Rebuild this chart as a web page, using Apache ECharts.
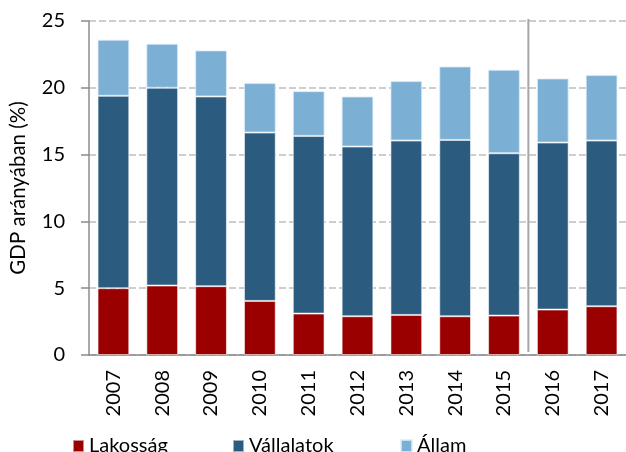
<!DOCTYPE html>
<html>
<head>
<meta charset="utf-8">
<script src="https://cdn.jsdelivr.net/npm/echarts@6/dist/echarts.min.js"></script>
<style>
  html, body { margin: 0; padding: 0; background: #fff; }
  #main { width: 626px; height: 452px; }
</style>
</head>
<body>
<div id="main"></div>
<script>
// adatok (GDP %)
var years = ['2007', '2008', '2009', '2010', '2011', '2012', '2013', '2014', '2015', '2016', '2017'];
var lakossag = [5.0, 5.2, 5.15, 4.05, 3.1, 2.9, 3.0, 2.9, 2.95, 3.4, 3.65];
var vallalatok = [14.4, 14.8, 14.2, 12.6, 13.3, 12.7, 13.05, 13.2, 12.15, 12.5, 12.4];
var allam = [4.2, 3.3, 3.45, 3.7, 3.35, 3.75, 4.45, 5.5, 6.25, 4.8, 4.9];
var splitAfter = '2015';

var font = 'Lato';
var chart = echarts.init(document.getElementById('main'));

function legendAt(name, left) {
  return {
    data: [name],
    left: left,
    top: 436,
    icon: 'rect',
    itemWidth: 11,
    itemHeight: 12,
    itemGap: 0,
    padding: 0,
    textStyle: { fontFamily: font, fontSize: 20, color: '#000' }
  };
}

var barBorder = 'rgba(255,255,255,0.55)';

var option = {
  animation: false,
  color: ['#9b0000', '#2b5b7e', '#7bafd4'],
  grid: {
    left: 88,
    right: 0,
    top: 21,
    bottom: 97
  },
  legend: [
    legendAt('Lakosság', 72),
    legendAt('Vállalatok', 232),
    legendAt('Állam', 400)
  ],
  xAxis: {
    type: 'category',
    data: years,
    axisLine: { lineStyle: { color: '#8c8c8c', width: 1.5 } },
    axisTick: { show: false },
    axisLabel: {
      rotate: 90,
      margin: 15,
      fontFamily: font,
      fontSize: 20,
      color: '#000'
    }
  },
  yAxis: {
    type: 'value',
    min: 0,
    max: 25,
    interval: 5,
    name: 'GDP arányában (%)',
    nameLocation: 'middle',
    nameGap: 60,
    nameTextStyle: { fontFamily: font, fontSize: 20.5, color: '#000' },
    axisLine: { show: true, lineStyle: { color: '#8c8c8c', width: 1.5 } },
    axisTick: { show: true, length: 8, lineStyle: { color: '#8c8c8c', width: 1.5 } },
    axisLabel: { margin: 24, fontFamily: font, fontSize: 20, color: '#000' },
    splitLine: { lineStyle: { color: '#bfbfbf', width: 1.5, type: [7, 3] } }
  },
  series: [{
    name: 'Lakosság',
    type: 'bar',
    stack: 'gdp',
    barWidth: '65%',
    itemStyle: { borderColor: barBorder, borderWidth: 1 },
    data: lakossag
  }, {
    name: 'Vállalatok',
    type: 'bar',
    stack: 'gdp',
    itemStyle: { borderColor: barBorder, borderWidth: 1 },
    data: vallalatok
  }, {
    name: 'Állam',
    type: 'bar',
    stack: 'gdp',
    itemStyle: { borderColor: 'rgba(220,235,248,0.8)', borderWidth: 1 },
    data: allam
  }]
};

chart.setOption(option);

// elválasztó vonal 2015 és 2016 között
var i = years.indexOf(splitAfter);
var x1 = chart.convertToPixel({ xAxisIndex: 0 }, years[i]);
var x2 = chart.convertToPixel({ xAxisIndex: 0 }, years[i + 1]);
var yTop = chart.convertToPixel({ yAxisIndex: 0 }, 25);
var yBottom = chart.convertToPixel({ yAxisIndex: 0 }, 0);
chart.setOption({
  graphic: [{
    type: 'line',
    shape: { x1: (x1 + x2) / 2, y1: yTop - 2, x2: (x1 + x2) / 2, y2: yBottom - 3 },
    style: { stroke: '#a6a6a6', lineWidth: 2 },
    z: 10
  }]
});
</script>
</body>
</html>
